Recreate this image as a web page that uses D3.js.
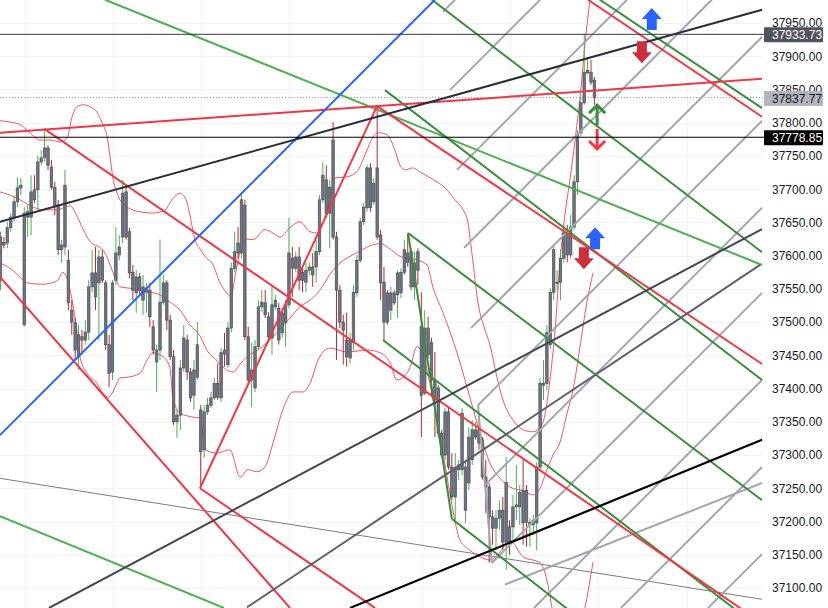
<!DOCTYPE html>
<html><head><meta charset="utf-8">
<script src="https://cdn.jsdelivr.net/npm/d3@7"></script>
<style>html,body{margin:0;padding:0;background:#fff;}svg{display:block;}</style>
</head><body>
<svg id="c" width="828" height="608"></svg>
<script>
// ---------- data (prices) ----------
const opens=[37563,37620,37619,37642,37658,37681,37702,37496,37658,37658,37699,37699,37741,37748,37762,37733,37703,37676,37609,37613,
37593,37518,37499,37448,37478,37473,37485,37553,37574,37559,37598,37559,37466,37425,37563,37601,37628,37696,37636,37575,
37544,37568,37533,37545,37548,37493,37440,37458,37530,37559,37503,37448,37350,37360,37431,37473,37425,37390,37417,37368,
37308,37365,37375,37386,37408,37386,37458,37436,37491,37581,37619,37604,37676,37478,37413,37401,37463,37523,37529,37508,
37476,37523,37521,37484,37499,37526,37596,37581,37598,37575,37560,37578,37583,37583,37606,37684,37714,37664,37774,37628,
37548,37500,37473,37446,37469,37544,37593,37651,37672,37732,37681,37732,37631,37560,37544,37518,37544,37541,37544,37575,
37604,37606,37553,37606,37493,37393,37491,37469,37413,37401,37333,37300,37365,37282,37237,37278,37278,37217,37258,37293,
37327,37338,37323,37267,37252,37207,37190,37205,37217,37169,37192,37192,37222,37222,37247,37247,37195,37195,37198,37282,
37405,37408,37466,37545,37559,37560,37596,37634,37601,37643,37711,37785,37830,37875,37876,37864];
const highs=[37636,37628,37651,37664,37691,37718,37717,37673,37676,37721,37721,37751,37759,37789,37766,37744,37711,37684,37624,37729,
37609,37533,37506,37496,37488,37503,37563,37609,37613,37609,37609,37563,37481,37563,37643,37631,37714,37706,37642,37586,
37578,37574,37571,37559,37559,37503,37466,37624,37571,37563,37511,37458,37368,37443,37496,37481,37431,37443,37500,37375,
37375,37386,37395,37416,37438,37461,37484,37500,37590,37636,37643,37694,37684,37493,37469,37473,37533,37548,37548,37515,
37553,37541,37529,37518,37533,37657,37613,37606,37613,37581,37589,37590,37604,37624,37691,37741,37736,37714,37801,37636,
37556,37511,37514,37484,37556,37601,37657,37679,37736,37739,37717,37824,37639,37583,37548,37553,37548,37578,37581,37624,
37634,37611,37606,37611,37545,37518,37508,37476,37455,37405,37338,37371,37371,37303,37303,37293,37371,37293,37342,37353,
37350,37363,37327,37293,37258,37217,37217,37232,37237,37297,37202,37240,37285,37255,37293,37255,37205,37210,37289,37416,
37443,37496,37551,37616,37578,37609,37646,37646,37661,37721,37789,37839,37933.73,37899,37894,37869];
const lows=[37548,37611,37611,37636,37651,37673,37691,37493,37628,37631,37679,37669,37736,37741,37729,37699,37661,37601,37589,37601,
37518,37481,37443,37428,37451,37466,37473,37545,37518,37473,37559,37458,37402,37413,37556,37593,37619,37624,37566,37533,
37514,37541,37511,37514,37493,37451,37395,37443,37526,37488,37443,37345,37326,37338,37425,37413,37380,37368,37413,37252,
37296,37360,37371,37383,37383,37380,37433,37431,37485,37575,37596,37596,37473,37405,37372,37395,37458,37515,37506,37473,
37451,37518,37466,37476,37463,37521,37538,37575,37548,37545,37545,37571,37553,37559,37601,37679,37657,37611,37624,37443,
37491,37436,37433,37438,37458,37538,37589,37646,37666,37666,37676,37624,37533,37473,37496,37503,37526,37506,37536,37571,
37583,37548,37533,37556,37327,37390,37446,37387,37327,37327,37296,37293,37278,37232,37202,37262,37270,37198,37247,37285,
37323,37308,37263,37213,37138,37165,37157,37187,37157,37127,37150,37172,37202,37195,37165,37162,37162,37180,37157,37278,
37383,37398,37460,37533,37548,37533,37590,37590,37596,37639,37691,37779,37827,37872,37857,37827];
const closes=[37628,37616,37642,37658,37681,37702,37706,37664,37666,37696,37684,37741,37747,37762,37736,37703,37676,37609,37616,37706,
37529,37500,37458,37481,37473,37485,37553,37574,37538,37598,37563,37466,37423,37559,37604,37613,37694,37628,37574,37548,
37568,37548,37553,37551,37508,37458,37458,37530,37559,37503,37448,37350,37360,37431,37476,37425,37386,37428,37466,37305,
37365,37375,37386,37408,37387,37454,37452,37491,37581,37606,37604,37684,37478,37413,37428,37463,37523,37530,37511,37478,
37526,37533,37473,37514,37526,37604,37581,37598,37563,37563,37578,37583,37571,37606,37684,37721,37664,37703,37628,37548,
37500,37488,37448,37473,37545,37593,37651,37673,37732,37672,37709,37628,37559,37500,37500,37544,37529,37574,37575,37609,
37590,37553,37589,37578,37390,37491,37451,37413,37383,37333,37300,37365,37282,37237,37281,37285,37363,37282,37327,37338,
37338,37318,37267,37252,37207,37190,37205,37217,37169,37259,37169,37222,37225,37244,37198,37199,37199,37202,37282,37408,
37408,37484,37545,37609,37560,37596,37634,37601,37643,37711,37782,37830,37876,37879,37861,37837.77];

const priceTicks = d3.range(37100, 37951, 50);
const gridBars = [7.2, 33.1, 59.1, 85.0, 124.2, 150.1, 176.0, 202.3];

// Bollinger bands [bar, price]
const bbUpper=[[-0.2,37803],[2.8,37801],[5.8,37797],[8.7,37785],[11.6,37774],[14.6,37774],[17.5,37771],[19.6,37777],[21.1,37809],[22.5,37824],[24.3,37827],[26.4,37824],[28.4,37816],[29.9,37800],[31.4,37779],[32.3,37748],[33.1,37718],[34.6,37691],[37.3,37673],[41.1,37666],[44.9,37664],[48.5,37669],[50.5,37684],[52.9,37694],[54.7,37684],[55.8,37661],[57.3,37624],[58.8,37610],[60.8,37596],[62.3,37589],[64.7,37559],[66.7,37544],[67.9,37538],[69.1,37568],[70.6,37606],[72.0,37625],[74.4,37624],[77.9,37639],[80.3,37634],[82.4,37628],[85.3,37642],[88.2,37651],[91.2,37636],[93.3,37634],[95.0,37649],[97.1,37684],[98.6,37717],[101.5,37718],[105.0,37726],[106.8,37744],[108.0,37759],[109.8,37779],[111.2,37785],[113.9,37782],[116.2,37759],[117.7,37736],[119.2,37729],[121.5,37732],[123.6,37726],[126.6,37717],[131.0,37702],[133.9,37684],[136.3,37669],[137.7,37651],[138.9,37604],[140.7,37529],[142.8,37488],[144.2,37466],[146.3,37417],[147.8,37387],[149.2,37368],[151.0,37353],[154.0,37338],[156.9,37335],[159.0,37341],[160.4,37360],[161.9,37413],[163.4,37488],[164.9,37593],[166.3,37661],[167.8,37714],[169.3,37774],[170.7,37834],[172.2,37917],[173.7,37985],[174.9,38030]];
const bbMiddle=[[-0.2,37696],[2.8,37691],[5.75,37684],[9.6,37673],[12.5,37669],[15.5,37669],[17.5,37670],[20.5,37675],[22.5,37660],[24.3,37640],[26.4,37621],[29.3,37612],[30.8,37604],[32.3,37586],[33.7,37568],[35.2,37553],[38.2,37551],[41.1,37548],[44.1,37545],[47.0,37541],[49.1,37533],[52.9,37518],[55.8,37496],[58.8,37479],[60.8,37458],[63.8,37442],[66.7,37428],[68.5,37425],[70.6,37437],[72.6,37448],[75.6,37457],[78.5,37469],[80.3,37478],[82.4,37490],[85.3,37506],[88.2,37523],[91.2,37533],[94.1,37548],[97.1,37572],[100.0,37589],[103.0,37599],[105.9,37607],[108.9,37615],[111.8,37618],[114.8,37610],[117.7,37599],[120.7,37595],[123.0,37593],[125.7,37586],[127.4,37553],[130.4,37514],[133.3,37473],[135.4,37439],[138.3,37387],[141.3,37333],[144.2,37288],[147.2,37265],[150.1,37252],[154.0,37246],[156.9,37240],[159.0,37250],[161.0,37278],[162.8,37300],[164.9,37320],[166.9,37362],[168.7,37398],[170.7,37461],[172.8,37530],[174.6,37574]];
const bbLower=[[-0.2,37589],[2.8,37581],[5.75,37568],[7.8,37559],[12.5,37557],[16.7,37562],[18.4,37575],[19.6,37566],[21.1,37533],[22.5,37488],[23.4,37448],[25.5,37423],[28.4,37408],[30.2,37393],[31.7,37387],[33.1,37395],[34.3,37408],[35.2,37416],[37.3,37417],[41.1,37423],[43.2,37443],[44.9,37454],[47.9,37448],[49.9,37432],[50.8,37387],[52.9,37363],[55.0,37359],[56.7,37357],[58.8,37356],[60.3,37308],[63.8,37303],[67.6,37308],[70.6,37267],[72.9,37278],[75.6,37275],[77.9,37282],[80.3,37318],[83.2,37368],[86.2,37395],[89.1,37395],[91.2,37408],[93.6,37443],[97.1,37461],[102.1,37455],[108.0,37458],[111.8,37454],[114.8,37439],[116.8,37413],[118.6,37417],[120.7,37432],[122.7,37463],[124.2,37455],[126.0,37420],[128.0,37368],[131.0,37285],[133.0,37225],[135.4,37172],[138.3,37157],[141.3,37147],[144.2,37142],[147.2,37154],[150.1,37172],[154.0,37147],[159.0,37138],[161.0,37112],[162.5,37070],[164.3,37022],[167.8,36992],[170.7,37037],[172.2,37070],[174.6,37139]];

// Drawn trend lines [bar1, price1, bar2, price2]
const darkLine = [[-0.15,37651,224.4,37970]];
const slateLine = [[14.29,37070,224.4,37640]];
const greyDarkLine = [[72.63,37071,223.8,37586]];
const blackLine = [[102.97,37070,224.4,37323]];
const thinGreyLine = [[-0.15,37265,224.4,37083]];
const blueLine = [[-0.15,37330,128.0,37985]];
const redLines = [[-0.15,37785,224.4,37866],[12.82,37791,224.4,37047],[110.93,37825,224.4,37437],[58.78,37250,110.93,37825],[58.78,37250,110.34,37070],[-0.15,37568,85.3,37070],[173.1,37985,224.4,37809]];
const greenLines = [[176.6,37985,224.4,37822],[127.1,37985,224.4,37605],[113.3,37849,224.4,37413],[112.7,37473,224.4,37037],[120.1,37634,224.4,37232],[120.1,37634,133.0,37204],[133.0,37204,224.4,36840]];
const lightGreenLines = [[-0.15,37208,65.85,37070],[30.79,37985,224.4,37586]];
const greyLines = [[130.4,37967,133.9,37985],[132.4,37849,159.0,37985],[134.5,37729,184.6,37985],[136.6,37612,209.6,37985],[138.6,37491,224.4,37929],[140.7,37375,224.4,37803],[142.8,37255,224.4,37672],[144.8,37138,224.4,37544],[157.2,37070,224.4,37413],[182.8,37070,224.4,37282],[208.5,37070,224.4,37151],[140.7,37375,144.8,37138],[148.6,37105,224.4,37258]];

const levelLast = 37837.77, levelHigh = 37933.73, levelRef = 37778.85;
const blueUpArrows = [[191.9,37956],[175.2,37626]];
const redDownArrows = [[189.0,37906],[171.9,37596]];
const greenUpMarks = [[175.8,37813]];
const redDownMarks = [[175.8,37774]];

// ---------- scales ----------
const W=828, H=608, plotR=763;
const x = d3.scaleLinear().domain([0,175]).range([0.5,594.4]);
const y = d3.scaleLinear().domain([37100,37950]).range([588,23]);

const svg = d3.select('#c');
svg.append('defs').append('clipPath').attr('id','plot').append('rect').attr('x',0).attr('y',0).attr('width',plotR).attr('height',H);
const g = svg.append('g').attr('clip-path','url(#plot)');

// grid
g.selectAll('.hg').data(priceTicks).join('line').attr('x1',0).attr('x2',plotR)
  .attr('y1',d=>Math.round(y(d))+0.5).attr('y2',d=>Math.round(y(d))+0.5).attr('stroke','#f0f3fa');
g.selectAll('.vg').data(gridBars).join('line').attr('y1',0).attr('y2',H)
  .attr('x1',d=>Math.round(x(d))+0.5).attr('x2',d=>Math.round(x(d))+0.5).attr('stroke','#f0f3fa');

// bands
const band = d3.line().x(d=>x(d[0])).y(d=>y(d[1])).curve(d3.curveMonotoneX);
[bbUpper,bbMiddle,bbLower].forEach(b=>{
  g.append('path').attr('d',band(b)).attr('fill','none').attr('stroke','#f23645').attr('stroke-width',1).attr('opacity',0.85);
});

// horizontal levels
g.append('line').attr('x1',0).attr('x2',plotR).attr('y1',y(levelLast)).attr('y2',y(levelLast))
  .attr('stroke','#9598a1').attr('stroke-dasharray','1,2');

// candles
const idx = d3.range(opens.length);
g.selectAll('.wick').data(idx).join('line')
  .attr('x1',i=>x(i)).attr('x2',i=>x(i)).attr('y1',i=>y(highs[i])).attr('y2',i=>y(lows[i]))
  .attr('stroke',i=>closes[i]>=opens[i]?'#4caf50':'#b22833').attr('stroke-width',1);
g.selectAll('.body').data(idx).join('rect')
  .attr('x',i=>x(i)-1.25).attr('width',2.5)
  .attr('y',i=>y(Math.max(opens[i],closes[i])))
  .attr('height',i=>Math.max(1,Math.abs(y(opens[i])-y(closes[i]))))
  .attr('fill','#707380').attr('stroke','#4c4f59').attr('stroke-width',0.7);

// trend lines
function drawLines(data,color,width){
  g.append('g').selectAll('line').data(data).join('line')
   .attr('x1',d=>x(d[0])).attr('y1',d=>y(d[1])).attr('x2',d=>x(d[2])).attr('y2',d=>y(d[3]))
   .attr('stroke',color).attr('stroke-width',width);
}
drawLines(thinGreyLine,'#787b86',1);
drawLines(greyLines,'#a3a6af',2);
drawLines(lightGreenLines,'#4caf50',2);
drawLines(greenLines,'#388e3c',2);
drawLines(redLines,'#f23645',2);
drawLines(blueLine,'#2962ff',2);
drawLines(greyDarkLine,'#5d606b',2);
drawLines(slateLine,'#434651',2);
drawLines(darkLine,'#2a2e39',2);
drawLines(blackLine,'#000000',2.2);

// level lines
svg.append('line').attr('x1',0).attr('x2',765).attr('y1',y(levelHigh)+0.5).attr('y2',y(levelHigh)+0.5).attr('stroke','#363a45').attr('stroke-width',1);
svg.append('line').attr('x1',0).attr('x2',765).attr('y1',y(levelRef)+0.5).attr('y2',y(levelRef)+0.5).attr('stroke','#000').attr('stroke-width',1);

// arrows
const upPath='M0,-11L10,0L5,0L5,11L-5,11L-5,0L-10,0Z';
const downPath='M0,11L10,0L5,0L5,-11L-5,-11L-5,0L-10,0Z';
g.selectAll('.bu').data(blueUpArrows).join('path').attr('d',upPath)
  .attr('transform',d=>`translate(${x(d[0])},${y(d[1])})`).attr('fill','#2962ff');
g.selectAll('.rd').data(redDownArrows).join('path').attr('d',downPath)
  .attr('transform',d=>`translate(${x(d[0])},${y(d[1])})`).attr('fill','#cc2f3c');
g.selectAll('.gu').data(greenUpMarks).join('path').attr('d','M0,11V-9M-8,-1L0,-9L8,-1')
  .attr('transform',d=>`translate(${x(d[0])},${y(d[1])})`).attr('fill','none').attr('stroke','#388e3c').attr('stroke-width',3);
g.selectAll('.rdm').data(redDownMarks).join('path').attr('d','M0,-11V9M-8,1L0,9L8,1')
  .attr('transform',d=>`translate(${x(d[0])},${y(d[1])})`).attr('fill','none').attr('stroke','#f23645').attr('stroke-width',3);

// axis
const ax = svg.append('g').attr('transform','translate(764,0)')
  .call(d3.axisRight(y).tickValues(priceTicks).tickFormat(d3.format('.2f')).tickSize(0).tickPadding(8));
ax.select('.domain').remove();
ax.selectAll('text').attr('font-family','Liberation Sans, Arial, sans-serif').attr('font-size',12).attr('fill','#131722');

// price labels
const labels=[{v:levelHigh,bg:'#50535e',fg:'#ffffff'},{v:levelLast,bg:'#b2b5be',fg:'#131722'},{v:levelRef,bg:'#000000',fg:'#ffffff'}];
labels.forEach(l=>{
  const yy=y(l.v)+1;
  svg.append('rect').attr('x',764).attr('y',yy-7.5).attr('width',59).attr('height',15).attr('fill',l.bg).attr('rx',1);
  svg.append('text').attr('x',772).attr('y',yy).attr('dy','0.35em').attr('font-family','Liberation Sans, Arial, sans-serif')
    .attr('font-size',12).attr('fill',l.fg).text(d3.format('.2f')(l.v));
});
</script>
</body></html>
